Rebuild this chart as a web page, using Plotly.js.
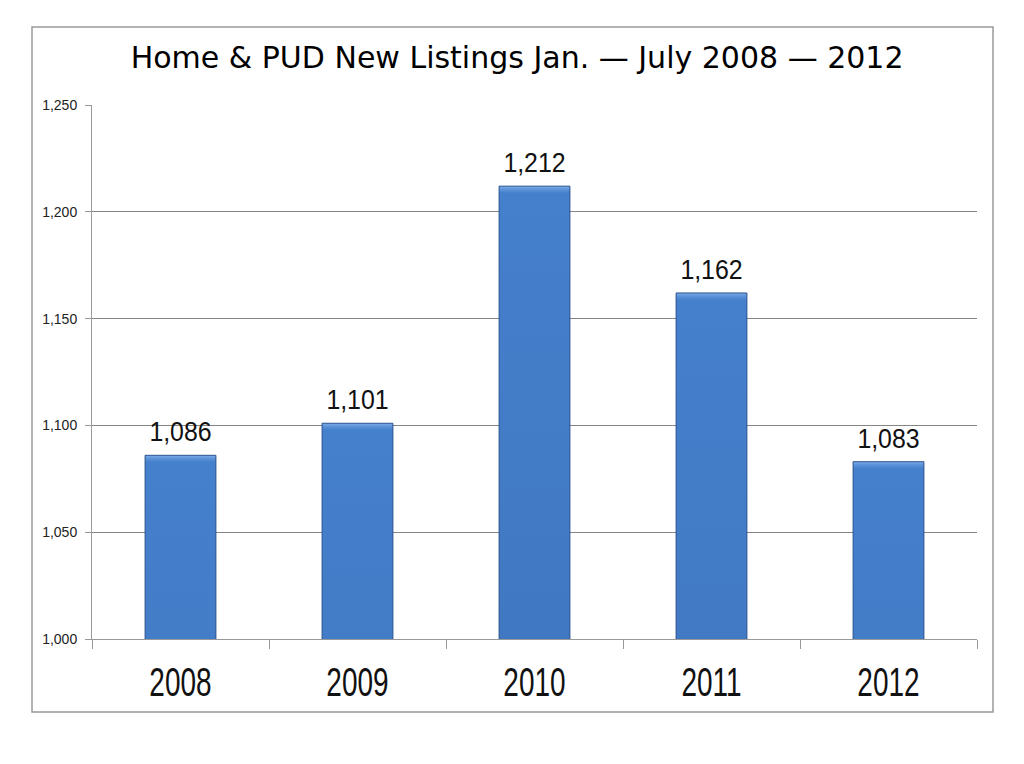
<!DOCTYPE html>
<html>
<head>
<meta charset="utf-8">
<script src="https://cdn.plot.ly/plotly-3.0.1.min.js"></script>
<style>html,body{margin:0;padding:0;background:#fff;}#chart{width:1024px;height:764px;}</style>
</head>
<body>
<div id="chart"></div>
<script>
const years = ["2008", "2009", "2010", "2011", "2012"];
const listings = [1086, 1101, 1212, 1162, 1083];
const yTicks = [1000, 1050, 1100, 1150, 1200, 1250];
const yTickLabels = ["1,000", "1,050", "1,100", "1,150", "1,200", "1,250"];

const trace = {
  type: "bar",
  x: years,
  y: listings,
  width: 0.4,
  marker: { color: "#3868b0", line: { color: "#28508c", width: 1 } },
  text: listings.map(v => v.toLocaleString("en-US")),
  textposition: "outside",
  cliponaxis: false,
  textfont: { family: "Liberation Sans, Arial, sans-serif", size: 36, color: "#111" },
  hoverinfo: "x+y"
};

const layout = {
  width: 1024, height: 764,
  margin: { l: 92, r: 47, t: 105, b: 125 },
  paper_bgcolor: "#fff", plot_bgcolor: "#fff",
  showlegend: false,
  title: {
    text: "Home &amp; PUD New Listings Jan. — July 2008 — 2012",
    font: { family: "DejaVu Sans, Verdana, sans-serif", size: 30, color: "#000" },
    x: 0.505, xanchor: "center", y: 1 - 57/764, yanchor: "middle", yref: "container"
  },
  xaxis: {
    type: "category",
    showline: true, linecolor: "#999", linewidth: 1,
    ticks: "outside", tickson: "boundaries", ticklen: 9, tickcolor: "#999",
    ticklabelstandoff: 8,
    tickfont: { family: "Liberation Sans, Arial, sans-serif", size: 40, color: "#111" },
    showgrid: false
  },
  yaxis: {
    range: [1000, 1250],
    tickvals: yTicks, ticktext: yTickLabels,
    showline: true, linecolor: "#999", linewidth: 1,
    ticks: "outside", ticklen: 6, tickcolor: "#999",
    ticklabelstandoff: 5,
    showgrid: true, gridcolor: "#858585", gridwidth: 1,
    zeroline: false,
    tickfont: { family: "Liberation Sans, Arial, sans-serif", size: 14, color: "#222" }
  },
  shapes: [{
    type: "rect", xref: "paper", yref: "paper",
    x0: (32 - 92) / 885, x1: (993 - 92) / 885,
    y0: (639 - 712) / 534, y1: (639 - 27) / 534,
    line: { color: "#999", width: 1.5 }, fillcolor: "rgba(0,0,0,0)", layer: "below"
  }]
};

function condense(el, s, dy) {
  const x = parseFloat(el.getAttribute("x") || "0");
  const t = el.getAttribute("transform") || "";
  el.setAttribute("transform", t + " translate(" + x + "," + (dy || 0) + ") scale(" + s + ",1) translate(" + (-x) + ",0)");
}

Plotly.newPlot("chart", [trace], layout, { displayModeBar: false, staticPlot: true }).then(gd => {
  const svg = gd.querySelector("svg.main-svg");
  const ns = "http://www.w3.org/2000/svg";
  let defs = svg.querySelector("defs");
  if (!defs) { defs = document.createElementNS(ns, "defs"); svg.insertBefore(defs, svg.firstChild); }
  gd.querySelectorAll(".bars .point path").forEach((p, i) => {
    const bb = p.getBBox();
    const h = Math.max(bb.height, 1);
    const g = document.createElementNS(ns, "linearGradient");
    g.setAttribute("id", "barGrad" + i);
    g.setAttribute("gradientUnits", "userSpaceOnUse");
    g.setAttribute("x1", "0"); g.setAttribute("x2", "0");
    g.setAttribute("y1", String(bb.y)); g.setAttribute("y2", String(bb.y + h));
    [[0, "#80aeea"], [3 / h, "#5e94da"], [7 / h, "#4580cc"], [0.5, "#3868b0"], [1, "#2a5190"]].forEach(([o, c]) => {
      const st = document.createElementNS(ns, "stop");
      st.setAttribute("offset", String(Math.min(o, 1))); st.setAttribute("stop-color", c);
      g.appendChild(st);
    });
    defs.appendChild(g);
    p.style.fill = "url(#barGrad" + i + ")";
  });
  gd.querySelectorAll(".bars .point text").forEach(t => condense(t, 0.88, -6));
  gd.querySelectorAll(".xtick text").forEach(t => condense(t, 0.7, 0));
});
</script>
</body>
</html>
